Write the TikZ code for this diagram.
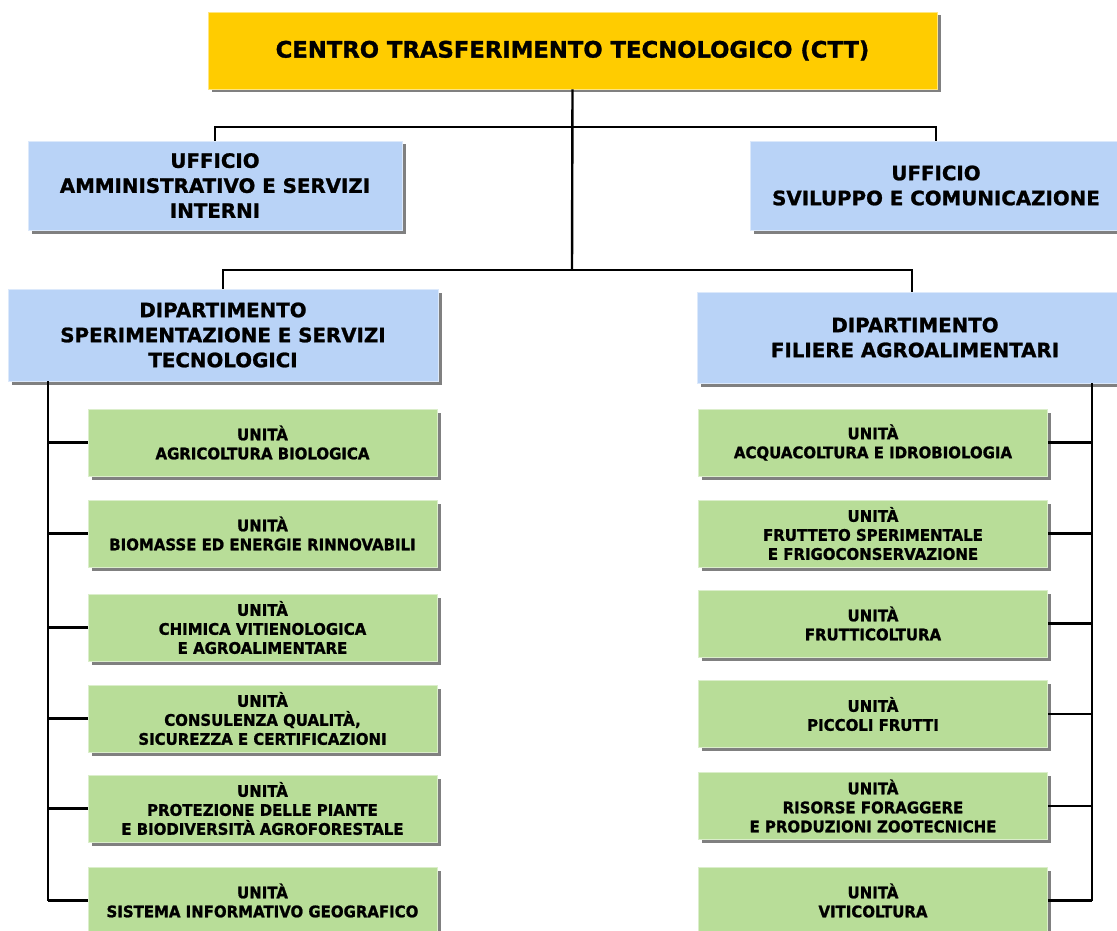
\documentclass[tikz,border=0pt]{standalone}
\usepackage{fontspec}
\setmainfont{DejaVu Sans}[BoldFont={DejaVu Sans Bold}, BoldFeatures={FakeBold=1.2}]
\newfontfamily\unitfont{DejaVu Sans}[BoldFont={DejaVu Sans Bold}, FakeStretch=0.94, BoldFeatures={FakeBold=1.2}]
\usetikzlibrary{shadows}
\definecolor{cttyellow}{HTML}{FFCC00}
\definecolor{offblue}{HTML}{B9D3F7}
\definecolor{unitgreen}{HTML}{B8DD98}
\definecolor{shadowgray}{HTML}{808080}
\newcommand{\fsz}[2]{\fontsize{#1}{#2}\selectfont\bfseries}
\tikzset{
  box/.style={rectangle, inner sep=0pt, align=center, line width=0.8pt,
    drop shadow={shadow xshift=3.5pt, shadow yshift=-3.5pt, fill=shadowgray, opacity=1}},
  topbox/.style={box, fill=cttyellow, draw=cttyellow!50!white,
    minimum width=729pt, minimum height=77pt, font=\fsz{22.7}{27}},
  bluebox/.style={box, fill=offblue, draw=offblue!50!white, font=\fsz{19.8}{25}},
  unitbox/.style={box, fill=unitgreen, draw=unitgreen!50!white,
    minimum width=349pt, minimum height=67pt, font=\unitfont\fsz{15.9}{19}},
  link/.style={line width=2.4pt, black}
}
\begin{document}
\begin{tikzpicture}[x=1pt, y=-1pt]
\useasboundingbox (0,0) rectangle (1117,931);
\fill[white] (0,0) rectangle (1117,931);

% head of the centre
\node[topbox] (ctt) at (572.5,50.5) {CENTRO TRASFERIMENTO TECNOLOGICO (CTT)};

% offices
\node[bluebox, minimum width=374pt, minimum height=89pt] (ofA) at (215,185.5)
  {UFFICIO\\AMMINISTRATIVO E SERVIZI\\INTERNI};
\node[bluebox, minimum width=372pt, minimum height=89pt] (ofB) at (936,185.5)
  {UFFICIO\\SVILUPPO E COMUNICAZIONE};

% departments
\node[bluebox, minimum width=430pt, minimum height=92pt] (dpA) at (223,335)
  {DIPARTIMENTO\\SPERIMENTAZIONE E SERVIZI\\TECNOLOGICI};
\node[bluebox, minimum width=436pt, minimum height=91pt] (dpB) at (915,337.5)
  {DIPARTIMENTO\\FILIERE AGROALIMENTARI};

% units of the first department
\node[unitbox] (uA1) at (262.5,442.5) {UNITÀ\\AGRICOLTURA BIOLOGICA};
\node[unitbox] (uA2) at (262.5,533.5) {UNITÀ\\BIOMASSE ED ENERGIE RINNOVABILI};
\node[unitbox] (uA3) at (262.5,627.5) {UNITÀ\\CHIMICA VITIENOLOGICA\\E AGROALIMENTARE};
\node[unitbox] (uA4) at (262.5,718.5) {UNITÀ\\CONSULENZA QUALITÀ,\\SICUREZZA E CERTIFICAZIONI};
\node[unitbox] (uA5) at (262.5,808.5) {UNITÀ\\PROTEZIONE DELLE PIANTE\\E BIODIVERSITÀ AGROFORESTALE};
\node[unitbox] (uA6) at (262.5,900.5) {UNITÀ\\SISTEMA INFORMATIVO GEOGRAFICO};

% units of the second department
\node[unitbox] (uB1) at (873,442.5) {UNITÀ\\ACQUACOLTURA E IDROBIOLOGIA};
\node[unitbox] (uB2) at (873,533.5) {UNITÀ\\FRUTTETO SPERIMENTALE\\E FRIGOCONSERVAZIONE};
\node[unitbox] (uB3) at (873,623.5) {UNITÀ\\FRUTTICOLTURA};
\node[unitbox] (uB4) at (873,714) {UNITÀ\\PICCOLI FRUTTI};
\node[unitbox] (uB5) at (873,806) {UNITÀ\\RISORSE FORAGGERE\\E PRODUZIONI ZOOTECNICHE};
\node[unitbox] (uB6) at (873,900.5) {UNITÀ\\VITICOLTURA};

% junction points of the tree
\coordinate (jOff) at (572,127);
\coordinate (jDep) at (572,270);
\coordinate (spA) at (48,0);
\coordinate (spB) at (1092,0);

% connectors: centre to offices and departments
\draw[link] (ctt.south) -- (jDep);
\draw[link] (ofA.north) |- (jOff) -| (ofB.north);
\draw[link] (dpA.north) |- (jDep) -| ([xshift=-3pt]dpB.north);

% spines of the two departments
\draw[link] (dpA.south -| spA) -- (uA6.west -| spA);
\draw[link] (dpB.south -| spB) -- (uB6.east -| spB);
\foreach \u in {uA1,uA2,uA3,uA4,uA5,uA6}
  \draw[link] (\u.west -| spA) -- (\u.west);
\foreach \u in {uB1,uB2,uB3,uB4,uB5,uB6}
  \draw[link] (\u.east) -- (\u.east -| spB);
\end{tikzpicture}
\end{document}
